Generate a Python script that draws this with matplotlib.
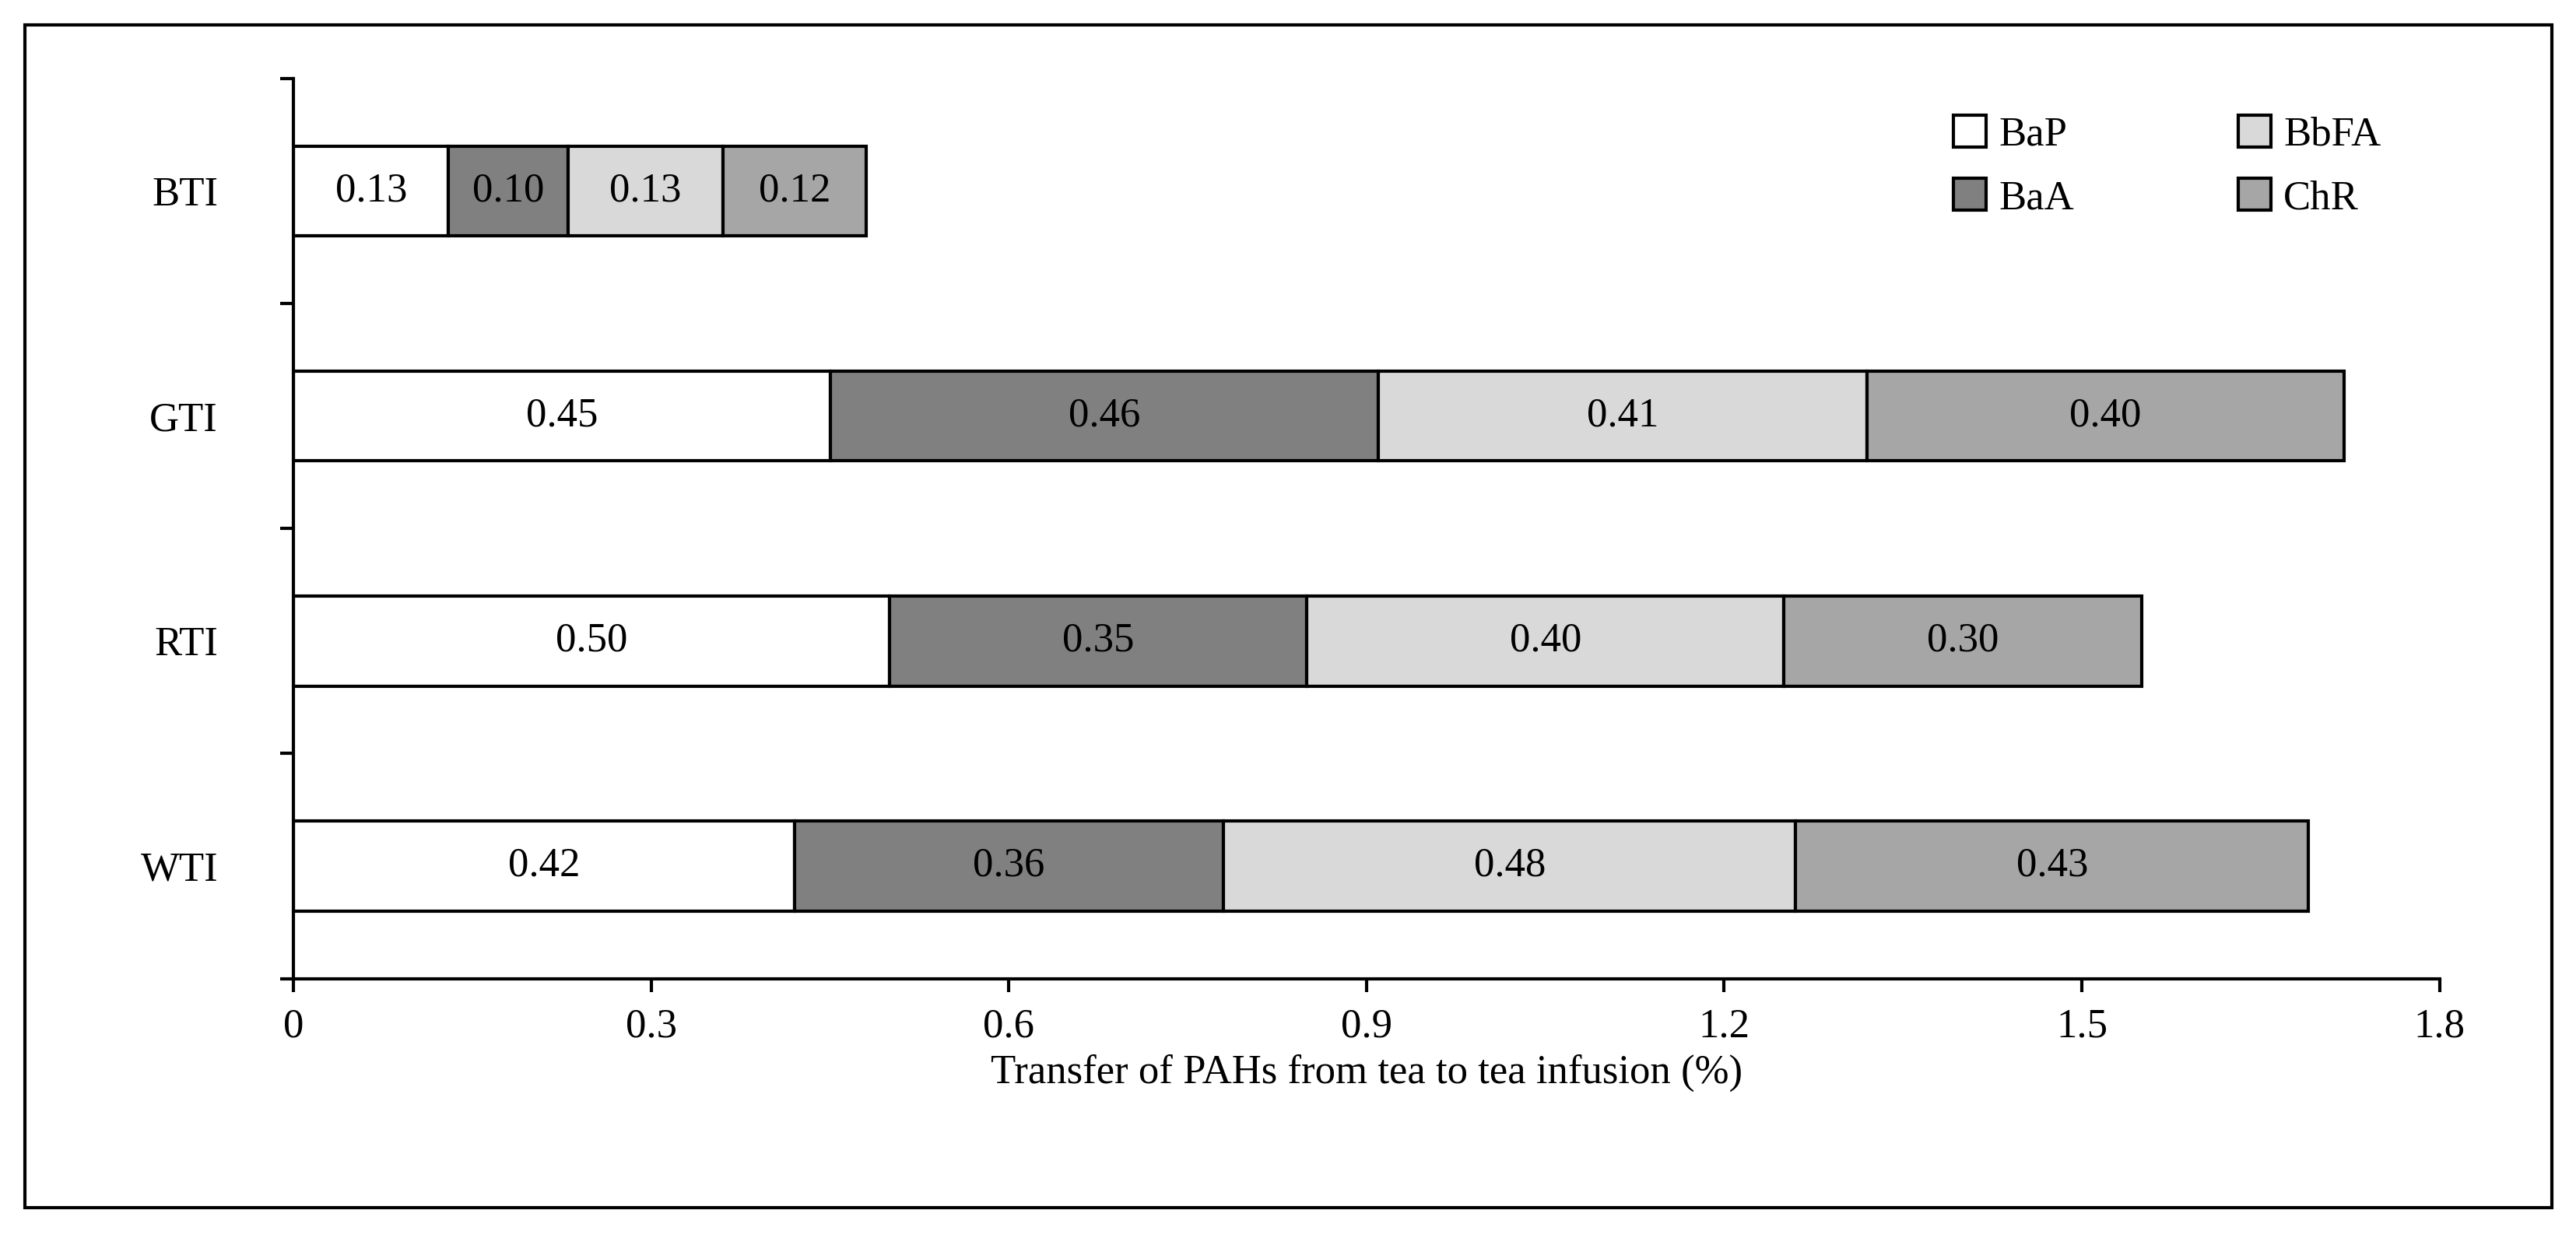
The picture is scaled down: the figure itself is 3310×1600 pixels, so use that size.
import numpy as np
import matplotlib.pyplot as plt
from matplotlib.patches import Rectangle

plt.rcParams['font.family'] = ['Liberation Serif', 'DejaVu Serif']

categories = ['WTI', 'RTI', 'GTI', 'BTI']
series = ['BaP', 'BaA', 'BbFA', 'ChR']
values = {
    'BaP': [0.42, 0.50, 0.45, 0.13],
    'BaA': [0.36, 0.35, 0.46, 0.10],
    'BbFA': [0.48, 0.40, 0.41, 0.13],
    'ChR': [0.43, 0.30, 0.40, 0.12],
}
colors = ['#ffffff', '#808080', '#d9d9d9', '#a6a6a6']
xticks = [0, 0.3, 0.6, 0.9, 1.2, 1.5, 1.8]

fig = plt.figure(figsize=(33.1, 16), dpi=100)
ax = fig.add_axes([0.114, 0.214, 0.833, 0.723])

# outer frame
fig.patches.append(Rectangle((0.0096, 0.03), 0.981, 0.95, transform=fig.transFigure,
                             fill=False, edgecolor='black', linewidth=3))

y = np.arange(len(categories))
left = np.zeros(len(categories))
for s, c in zip(series, colors):
    v = np.array(values[s])
    bars = ax.barh(y, v, left=left, height=0.4, color=c, edgecolor='black',
                   linewidth=3, label=s)
    for yi, l, vi in zip(y, left, v):
        ax.text(l + vi / 2, yi, f'{vi:.2f}', ha='center', va='center', fontsize=38)
    left += v

ax.set_xlim(0, 1.8)
ax.set_ylim(-0.5, 3.5)
ax.set_xticks(xticks)
ax.set_xticklabels(['0', '0.3', '0.6', '0.9', '1.2', '1.5', '1.8'], fontsize=38)
ax.set_yticks(y)
ax.set_yticklabels(categories, fontsize=38)
ax.tick_params(axis='y', length=0, pad=70)
ax.set_yticks(np.arange(-0.5, 4, 1), minor=True)
ax.tick_params(axis='y', which='minor', length=12, width=3, direction='out')
ax.tick_params(axis='x', length=12, width=3, direction='out', pad=15)
for sp in ['top', 'right']:
    ax.spines[sp].set_visible(False)
for sp in ['left', 'bottom']:
    ax.spines[sp].set_linewidth(3)
ax.set_xlabel('Transfer of PAHs from tea to tea infusion (%)', fontsize=38, labelpad=8)

ax.legend(ncol=2, loc='upper right', frameon=False, fontsize=38,
          bbox_to_anchor=(0.99, 1.0), columnspacing=4, handlelength=0.8,
          handleheight=0.8, handletextpad=0.3, labelspacing=0.6)

fig.savefig('out.png', dpi=100, facecolor='white')
